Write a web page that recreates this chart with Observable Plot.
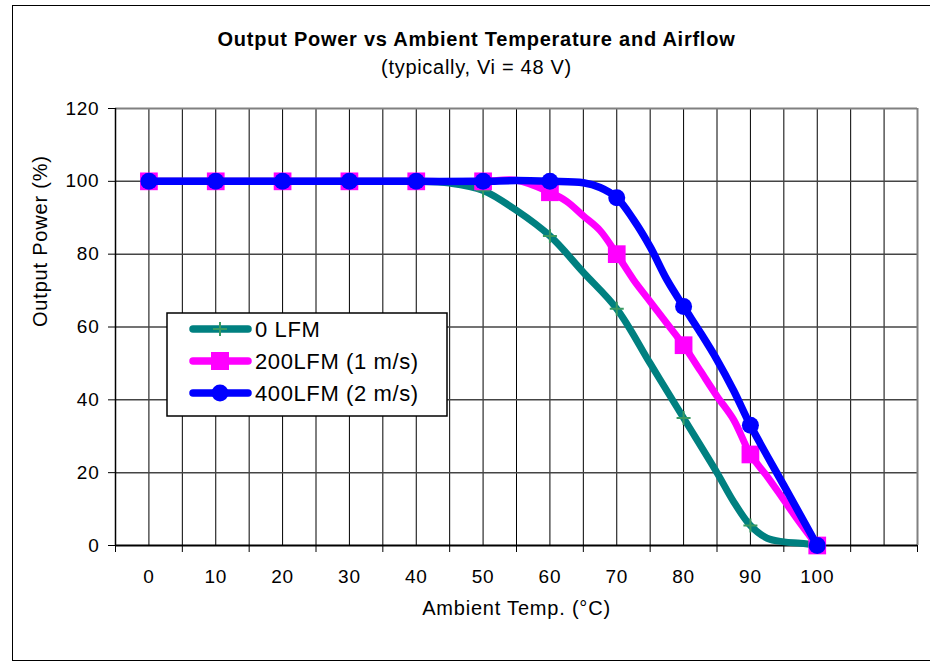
<!DOCTYPE html>
<html><head><meta charset="utf-8">
<script src="https://cdn.jsdelivr.net/npm/d3@7"></script>
<script src="https://cdn.jsdelivr.net/npm/@observablehq/plot@0.6"></script>
<style>
body{margin:0;background:#fff;font-family:"Liberation Sans",Arial,sans-serif;}
#wrap{position:relative;width:930px;height:664px;overflow:hidden;background:#fff;}
#frame{position:absolute;left:12px;top:5px;width:940px;height:656px;border:1.5px solid #000;box-sizing:border-box;}
#title{position:absolute;left:12px;width:929px;top:27px;text-align:center;font-weight:bold;font-size:20px;line-height:24px;letter-spacing:0.75px;}
#subtitle{position:absolute;left:12px;width:929px;top:55px;text-align:center;font-size:20px;line-height:24px;letter-spacing:0.7px;}
#chart{position:absolute;left:0;top:90px;}
#legend{position:absolute;left:0;top:0;}
</style></head>
<body>
<div id="wrap">
  <div id="frame"></div>
  <div id="title">Output Power vs Ambient Temperature and Airflow</div>
  <div id="subtitle">(typically, Vi = 48 V)</div>
  <div id="chart"></div>
  <svg id="legend" width="930" height="664"></svg>
</div>
<script>
// ---- data ----
const xTickLabels = [0, 10, 20, 30, 40, 50, 60, 70, 80, 90, 100];
const yTickLabels = [0, 20, 40, 60, 80, 100, 120];
const seriesNames = ["0 LFM", "200LFM (1 m/s)", "400LFM (2 m/s)"];

const lfm0T = [0, 10, 20, 30, 40, 45, 50, 55, 60, 65, 70, 75, 80, 85, 87.5, 90, 92.5, 95, 97.5, 100];
const lfm0P = [100, 100, 100, 100, 100, 99.5, 97.5, 92, 85, 75, 65, 50, 35, 20, 12, 5.5, 2, 1, 0.6, 0];

const lfm200T = [0, 10, 20, 30, 40, 50, 55, 60, 62.5, 65, 67.5, 70, 72.5, 75, 77.5, 80, 82.5, 85, 87.5, 90, 92.5, 95, 97.5, 100];
const lfm200P = [100, 100, 100, 100, 100, 100, 100.3, 97, 94.5, 90.5, 86.5, 80, 73, 67, 61, 55, 48, 41, 34.5, 25, 19, 12.5, 6, 0];

const lfm400T = [0, 10, 20, 30, 40, 50, 55, 60, 65, 67.5, 70, 72.5, 75, 77.5, 80, 82.5, 85, 87.5, 90, 95, 100];
const lfm400P = [100, 100, 100, 100, 100, 100, 100.2, 100, 99.6, 98.3, 95.5, 89.5, 82, 73, 65.6, 58.5, 51, 42.5, 33, 16.5, 0];

// ---- build tables ----
const toRows = (T, P) => T.map((t, i) => ({t, p: P[i]}));
const s0 = toRows(lfm0T, lfm0P);
const s200 = toRows(lfm200T, lfm200P);
const s400 = toRows(lfm400T, lfm400P);
const markersOf = rows => rows.filter(d => xTickLabels.includes(d.t));

const colors = {teal: "#008080", plus: "#3a9a62", magenta: "#ff00ff", blue: "#0000ff"};

const plusSymbol = {
  draw(ctx, size) {
    const h = Math.sqrt(size / Math.PI);
    ctx.moveTo(-h, 0); ctx.lineTo(h, 0);
    ctx.moveTo(0, -h); ctx.lineTo(0, h);
  }
};

const vGrid = d3.range(0, 115, 5);
const hGrid = [20, 40, 60, 80, 100];
const xTickMarks = d3.range(-5, 116, 10);

const chart = Plot.plot({
  width: 930,
  height: 574,
  marginLeft: 115,
  marginRight: 13,
  marginTop: 18,
  marginBottom: 119,
  style: {fontFamily: "'Liberation Sans', Arial, sans-serif", fontSize: "19px", color: "#000", background: "transparent", overflow: "visible", letterSpacing: "0.8px"},
  x: {domain: [-5, 115]},
  y: {domain: [0, 120]},
  marks: [
    Plot.ruleX(vGrid, {stroke: "#000", strokeWidth: 1}),
    Plot.ruleY(hGrid, {stroke: "#444", strokeWidth: 1.5}),
    Plot.ruleY([120], {stroke: "#808080", strokeWidth: 2}),
    Plot.ruleX([115], {stroke: "#808080", strokeWidth: 2}),
    Plot.axisY({ticks: yTickLabels, tickSize: 7, tickPadding: 9, tickFormat: d => String(d), label: null, stroke: "#000"}),
    Plot.axisX({ticks: xTickMarks, tickSize: 7, tickFormat: () => "", label: null, stroke: "#000"}),
    Plot.axisX({ticks: xTickLabels, tickSize: 0, tickPadding: 24, tickFormat: d => String(d), label: null}),
    Plot.ruleX([-5], {stroke: "#000", strokeWidth: 1.5}),
    Plot.ruleY([0], {stroke: "#000", strokeWidth: 2}),
    // 0 LFM
    Plot.line(s0, {x: "t", y: "p", stroke: colors.teal, strokeWidth: 7, curve: "catmull-rom", strokeLinejoin: "round", strokeLinecap: "round"}),
    Plot.dot(markersOf(s0), {x: "t", y: "p", symbol: plusSymbol, r: 7, stroke: colors.plus, strokeWidth: 2, fill: "none"}),
    // 200 LFM
    Plot.line(s200, {x: "t", y: "p", stroke: colors.magenta, strokeWidth: 7, curve: "catmull-rom", strokeLinejoin: "round", strokeLinecap: "round"}),
    Plot.dot(markersOf(s200), {x: "t", y: "p", symbol: "square", r: 10, fill: colors.magenta, stroke: "none"}),
    // 400 LFM
    Plot.line(s400, {x: "t", y: "p", stroke: colors.blue, strokeWidth: 7.5, curve: "catmull-rom", strokeLinejoin: "round", strokeLinecap: "round"}),
    Plot.dot(markersOf(s400), {x: "t", y: "p", r: 8.5, fill: colors.blue, stroke: "none"}),
    // axis titles
    Plot.text(["Ambient Temp. (°C)"], {frameAnchor: "bottom", dy: 69, fontSize: 20, fill: "#000"}),
    Plot.text(["Output Power (%)"], {frameAnchor: "left", dx: -75, rotate: -90, fontSize: 20, fill: "#000"})
  ]
});
document.getElementById("chart").appendChild(chart);

// ---- legend ----
const lg = d3.select("#legend");
const box = {x: 167, y: 313, w: 280, h: 103};
lg.append("rect").attr("x", box.x).attr("y", box.y).attr("width", box.w).attr("height", box.h)
  .attr("fill", "#fff").attr("stroke", "#000").attr("stroke-width", 1.5);
const legendItems = [
  {name: seriesNames[0], color: colors.teal, marker: "plus"},
  {name: seriesNames[1], color: colors.magenta, marker: "square"},
  {name: seriesNames[2], color: colors.blue, marker: "circle"}
];
legendItems.forEach((it, i) => {
  const cy = 329 + i * 32;
  const g = lg.append("g");
  g.append("line").attr("x1", 193).attr("x2", 248).attr("y1", cy).attr("y2", cy)
    .attr("stroke", it.color).attr("stroke-width", 7.5).attr("stroke-linecap", "round");
  if (it.marker === "plus") {
    g.append("path").attr("d", `M213,${cy}H227M220,${cy - 7}V${cy + 7}`).attr("stroke", colors.plus).attr("stroke-width", 2).attr("fill", "none");
  } else if (it.marker === "square") {
    g.append("rect").attr("x", 211).attr("y", cy - 9).attr("width", 18).attr("height", 18).attr("fill", it.color);
  } else {
    g.append("circle").attr("cx", 220).attr("cy", cy).attr("r", 8.5).attr("fill", it.color);
  }
  g.append("text").attr("x", 255).attr("y", cy).attr("dy", "0.36em")
    .attr("font-family", "'Liberation Sans', Arial, sans-serif").attr("font-size", 22)
    .attr("letter-spacing", "0.6px").attr("fill", "#000").text(it.name);
});
</script>
</body></html>
